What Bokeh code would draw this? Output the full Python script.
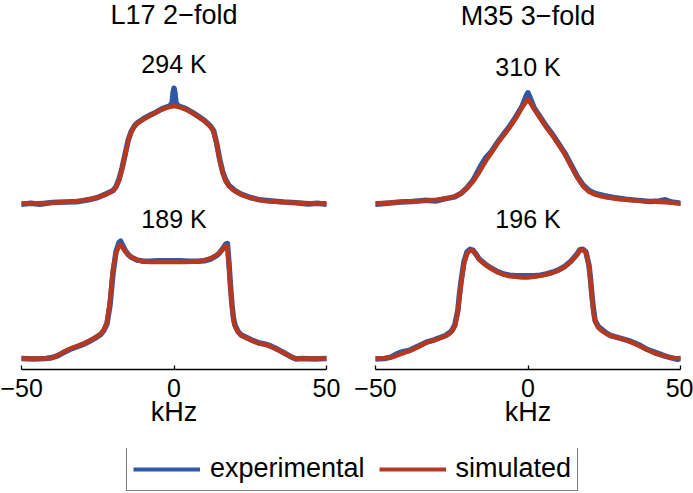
from bokeh.plotting import figure
from bokeh.models import Range1d, FixedTicker, Legend, LegendItem, Label
from bokeh.layouts import column, row
from bokeh.embed import file_html
from bokeh.resources import INLINE

BLUE = "#2f58a8"
RED = "#b5381f"
FONT = "Liberation Sans"

panel_titles = ["L17 2\u2212fold", "M35 3\u2212fold"]
temps_top = ["294 K", "310 K"]
temps_bottom = ["189 K", "196 K"]
tick_values = [-50, 0, 50]
tick_labels = ["\u221250", "0", "50"]
legend_labels = ["experimental", "simulated"]

# ---- L17, 294 K ----
l17_hot_sim_x = [-50, -45, -40, -35, -30, -26, -24, -22, -20, -19, -18, -17, -16, -15, -14, -13, -12, -10, -8, -6, -4, -2, 0,
                 2, 4, 6, 8, 10, 12, 13, 14, 15, 16, 17, 18, 19, 20, 22, 24, 26, 30, 35, 40, 45, 50]
l17_hot_sim_y = [0.0, 0.0, 0.005, 0.01, 0.025, 0.045, 0.06, 0.08, 0.11, 0.14, 0.2, 0.3, 0.42, 0.55, 0.62, 0.67, 0.695, 0.73, 0.76, 0.79, 0.815, 0.835, 0.845,
                 0.835, 0.815, 0.785, 0.75, 0.715, 0.665, 0.62, 0.51, 0.37, 0.26, 0.19, 0.15, 0.125, 0.105, 0.075, 0.055, 0.04, 0.02, 0.01, 0.004, 0.0, 0.0]
l17_hot_exp_x = [-50, -47, -44, -40, -36, -32, -28, -25, -22, -20, -19, -18, -17, -16, -15, -14, -13, -12, -10, -8, -6, -4, -2, -1.2, -0.6, -0.3, 0,
                 0.3, 0.6, 1.2, 2, 4, 6, 8, 10, 12, 13, 14, 15, 16, 17, 18, 20, 22, 25, 28, 32, 36, 40, 44, 47, 50]
l17_hot_exp_y = [-0.01, 0.0, -0.008, 0.006, 0.01, 0.012, 0.03, 0.05, 0.085, 0.11, 0.145, 0.21, 0.31, 0.43, 0.55, 0.625, 0.67, 0.7, 0.735, 0.765, 0.79, 0.82, 0.84, 0.85, 0.88, 0.96, 1.0,
                 0.96, 0.88, 0.85, 0.84, 0.82, 0.79, 0.755, 0.72, 0.67, 0.63, 0.52, 0.38, 0.27, 0.2, 0.155, 0.11, 0.08, 0.05, 0.03, 0.02, 0.01, 0.004, -0.006, 0.0, -0.01]

# ---- L17, 189 K ----
l17_cold_sim_x = [-50, -45, -41, -40, -38, -36, -34, -32, -30, -28, -26, -24, -23, -22, -21, -20, -19, -18, -17.5, -17, -16, -15, -14, -12, -10, -8, -4, 0,
                  4, 8, 10, 12, 14, 15, 16, 17, 17.5, 18, 18.5, 19, 19.5, 20, 21, 22, 24, 26, 28, 30, 32, 34, 36, 38, 39, 40, 45, 50]
l17_cold_sim_y = [0.0, 0.0, 0.0, 0.005, 0.03, 0.06, 0.085, 0.105, 0.125, 0.15, 0.18, 0.215, 0.25, 0.31, 0.5, 0.78, 0.92, 0.98, 0.99, 0.97, 0.93, 0.9, 0.88, 0.855, 0.845, 0.84, 0.84, 0.84,
                  0.84, 0.845, 0.855, 0.87, 0.9, 0.92, 0.95, 0.98, 0.97, 0.8, 0.62, 0.46, 0.34, 0.28, 0.23, 0.2, 0.175, 0.15, 0.13, 0.12, 0.1, 0.075, 0.05, 0.02, 0.005, 0.0, 0.0, 0.0]
l17_cold_exp_x = [-50, -46, -42, -40, -38, -36, -34, -32, -30, -28, -26, -24, -23, -22, -21, -20, -19, -18, -17.5, -17, -16, -15, -14, -12, -10, -8, -5, -2, 0,
                  2, 5, 8, 10, 12, 14, 15, 16, 17, 17.5, 18, 18.5, 19, 19.5, 20, 21, 22, 24, 26, 28, 30, 32, 34, 36, 38, 40, 42, 46, 50]
l17_cold_exp_y = [0.0, -0.005, 0.0, 0.008, 0.025, 0.055, 0.08, 0.1, 0.12, 0.145, 0.175, 0.21, 0.245, 0.3, 0.46, 0.74, 0.93, 1.01, 1.02, 0.99, 0.94, 0.905, 0.88, 0.855, 0.845, 0.845, 0.85, 0.85, 0.85,
                  0.85, 0.845, 0.845, 0.85, 0.865, 0.895, 0.92, 0.955, 0.995, 1.0, 0.84, 0.64, 0.47, 0.35, 0.29, 0.235, 0.205, 0.18, 0.155, 0.135, 0.125, 0.105, 0.08, 0.05, 0.02, -0.005, 0.0, -0.004, 0.0]

# ---- M35, 310 K ----
m35_hot_sim_x = [-50, -45, -40, -35, -30, -26, -24, -22, -20, -18, -16, -14, -12, -10, -8, -6, -4, -2, 0,
                 2, 4, 6, 8, 10, 12, 14, 16, 18, 20, 22, 24, 26, 30, 35, 40, 45, 50]
m35_hot_sim_y = [0.0, 0.005, 0.012, 0.02, 0.03, 0.045, 0.06, 0.085, 0.13, 0.19, 0.27, 0.36, 0.44, 0.52, 0.59, 0.66, 0.74, 0.83, 0.905,
                 0.82, 0.74, 0.66, 0.59, 0.51, 0.43, 0.33, 0.23, 0.15, 0.1, 0.075, 0.06, 0.05, 0.035, 0.025, 0.015, 0.008, 0.0]
m35_hot_exp_x = [-50, -46, -42, -38, -34, -30, -27, -24, -22, -20, -18, -16, -14, -12, -10, -8, -6, -4, -2, -0.5, 0,
                 0.5, 2, 4, 6, 8, 10, 12, 14, 16, 18, 20, 22, 25, 28, 32, 36, 40, 43, 45, 47, 50]
m35_hot_exp_y = [-0.008, 0.0, 0.01, 0.015, 0.025, 0.02, 0.04, 0.055, 0.085, 0.135, 0.2, 0.3, 0.39, 0.45, 0.53, 0.6, 0.67, 0.75, 0.84, 0.94, 0.96,
                 0.93, 0.83, 0.75, 0.67, 0.6, 0.52, 0.44, 0.34, 0.24, 0.16, 0.11, 0.085, 0.065, 0.05, 0.035, 0.025, 0.015, 0.02, 0.03, 0.01, 0.0]

# ---- M35, 196 K ----
m35_cold_sim_x = [-50, -46, -44, -42, -40, -38, -36, -34, -32, -30, -28, -26, -25, -24, -23, -22.5, -22, -21, -20, -19, -18, -17, -16, -14, -12, -10, -8, -6, -4, -2, 0,
                  2, 4, 6, 8, 10, 12, 14, 16, 17, 18, 19, 20, 20.5, 21, 21.5, 22, 23, 24, 26, 28, 30, 32, 34, 36, 38, 40, 42, 44, 46, 48, 50]
m35_cold_sim_y = [0.0, 0.005, 0.015, 0.035, 0.055, 0.075, 0.1, 0.13, 0.15, 0.165, 0.185, 0.21, 0.235, 0.28, 0.4, 0.52, 0.64, 0.82, 0.91, 0.94, 0.935, 0.9, 0.86, 0.815, 0.78, 0.75, 0.73, 0.715, 0.71, 0.705, 0.705,
                  0.71, 0.72, 0.73, 0.745, 0.765, 0.795, 0.84, 0.9, 0.94, 0.945, 0.92, 0.8, 0.67, 0.52, 0.4, 0.32, 0.27, 0.245, 0.21, 0.19, 0.175, 0.16, 0.14, 0.115, 0.09, 0.065, 0.04, 0.025, 0.012, 0.005, 0.0]
m35_cold_exp_x = [-50, -47, -45, -43, -41, -39, -37, -35, -33, -31, -29, -27, -25, -24, -23, -22.5, -22, -21, -20, -19, -18, -17, -16, -14, -12, -10, -8, -6, -4, -2, 0,
                  2, 4, 6, 8, 10, 12, 14, 16, 17, 18, 19, 20, 20.5, 21, 21.5, 22, 23, 25, 27, 29, 31, 33, 35, 37, 39, 41, 43, 45, 47, 49, 50]
m35_cold_exp_y = [-0.005, 0.0, 0.012, 0.04, 0.06, 0.07, 0.095, 0.12, 0.145, 0.16, 0.18, 0.2, 0.24, 0.29, 0.42, 0.55, 0.66, 0.84, 0.925, 0.95, 0.94, 0.905, 0.865, 0.82, 0.785, 0.755, 0.735, 0.725, 0.72, 0.72, 0.72,
                  0.72, 0.725, 0.735, 0.75, 0.77, 0.8, 0.845, 0.905, 0.945, 0.95, 0.925, 0.81, 0.69, 0.54, 0.42, 0.33, 0.28, 0.235, 0.2, 0.185, 0.17, 0.155, 0.135, 0.11, 0.08, 0.06, 0.04, 0.02, 0.005, -0.008, 0.0]

TOP_OFFSET = 1.35


def make_panel(title, t_top, t_bot, hot_exp, hot_sim, cold_exp, cold_sim, width, bl, br,
               title_y, top_y, bot_y):
    p = figure(width=width, height=448, output_backend="svg", toolbar_location=None,
               x_range=Range1d(-50, 50), y_range=Range1d(-0.0957, 3.113),
               min_border_left=bl, min_border_right=br, min_border_top=0, min_border_bottom=79,
               y_axis_location=None, title=None)
    p.outline_line_color = None
    p.grid.visible = False
    p.background_fill_color = "white"
    p.border_fill_color = "white"

    for (ex, ey), (sx, sy), off in ((hot_exp, hot_sim, TOP_OFFSET), (cold_exp, cold_sim, 0.0)):
        p.line(ex, [v + off for v in ey], line_color=BLUE, line_width=5.5, line_join="round", line_cap="round")
        p.line(sx, [v + off for v in sy], line_color=RED, line_width=4.5, line_join="round", line_cap="round")

    ax = p.xaxis[0]
    ax.ticker = FixedTicker(ticks=tick_values)
    ax.major_label_overrides = {v: s for v, s in zip(tick_values, tick_labels)}
    ax.minor_tick_line_color = None
    ax.major_tick_in = 4
    ax.major_tick_out = 0
    ax.axis_line_width = 1.3
    ax.axis_line_color = "black"
    ax.major_tick_line_color = "black"
    ax.major_tick_line_width = 1.3
    ax.major_label_text_font = FONT
    ax.major_label_text_font_size = "25px"
    ax.major_label_text_color = "black"
    ax.major_label_standoff = 9
    ax.axis_label = "kHz"
    ax.axis_label_text_font = FONT
    ax.axis_label_text_font_size = "27px"
    ax.axis_label_text_font_style = "normal"
    ax.axis_label_text_color = "black"
    ax.axis_label_standoff = -3

    p.add_layout(Label(x=0, y=title_y, text=title, text_align="center", text_baseline="alphabetic",
                       text_font=FONT, text_font_size="27px", text_color="black"))
    p.add_layout(Label(x=0, y=top_y, text=t_top, text_align="center", text_baseline="alphabetic",
                       text_font=FONT, text_font_size="25px", text_color="black"))
    p.add_layout(Label(x=0, y=bot_y, text=t_bot, text_align="center", text_baseline="alphabetic",
                       text_font=FONT, text_font_size="25px", text_color="black"))
    return p


p1 = make_panel(panel_titles[0], temps_top[0], temps_bottom[0],
                (l17_hot_exp_x, l17_hot_exp_y), (l17_hot_sim_x, l17_hot_sim_y),
                (l17_cold_exp_x, l17_cold_exp_y), (l17_cold_sim_x, l17_cold_sim_y),
                width=350, bl=21, br=24, title_y=2.985, top_y=2.565, bot_y=1.217)
p2 = make_panel(panel_titles[1], temps_top[1], temps_bottom[1],
                (m35_hot_exp_x, m35_hot_exp_y), (m35_hot_sim_x, m35_hot_sim_y),
                (m35_cold_exp_x, m35_cold_exp_y), (m35_cold_sim_x, m35_cold_sim_y),
                width=343, bl=25, br=13, title_y=2.978, top_y=2.539, bot_y=1.217)

pl = figure(width=693, height=44, output_backend="svg", toolbar_location=None,
            x_range=Range1d(0, 1), y_range=Range1d(0, 1), min_border=0,
            x_axis_location=None, y_axis_location=None, title=None)
pl.outline_line_color = None
pl.grid.visible = False
# legend-only renderers, kept outside the visible range
r_exp = pl.line([-5, -4], [-5, -4], line_color=BLUE, line_width=4)
r_sim = pl.line([-5, -4], [-5, -4], line_color=RED, line_width=4)
legend = Legend(items=[LegendItem(label=legend_labels[0], renderers=[r_exp]),
                       LegendItem(label=legend_labels[1], renderers=[r_sim])],
                orientation="horizontal", location=(126, 1),
                glyph_width=67, glyph_height=20, label_standoff=10, spacing=14, padding=6, margin=0,
                border_line_color="black", border_line_width=1.2, background_fill_color="white",
                label_text_font=FONT, label_text_font_size="27px", label_text_color="black")
pl.add_layout(legend)

layout = column(row(p1, p2), pl)
open("out.html", "w").write(file_html(layout, INLINE))
